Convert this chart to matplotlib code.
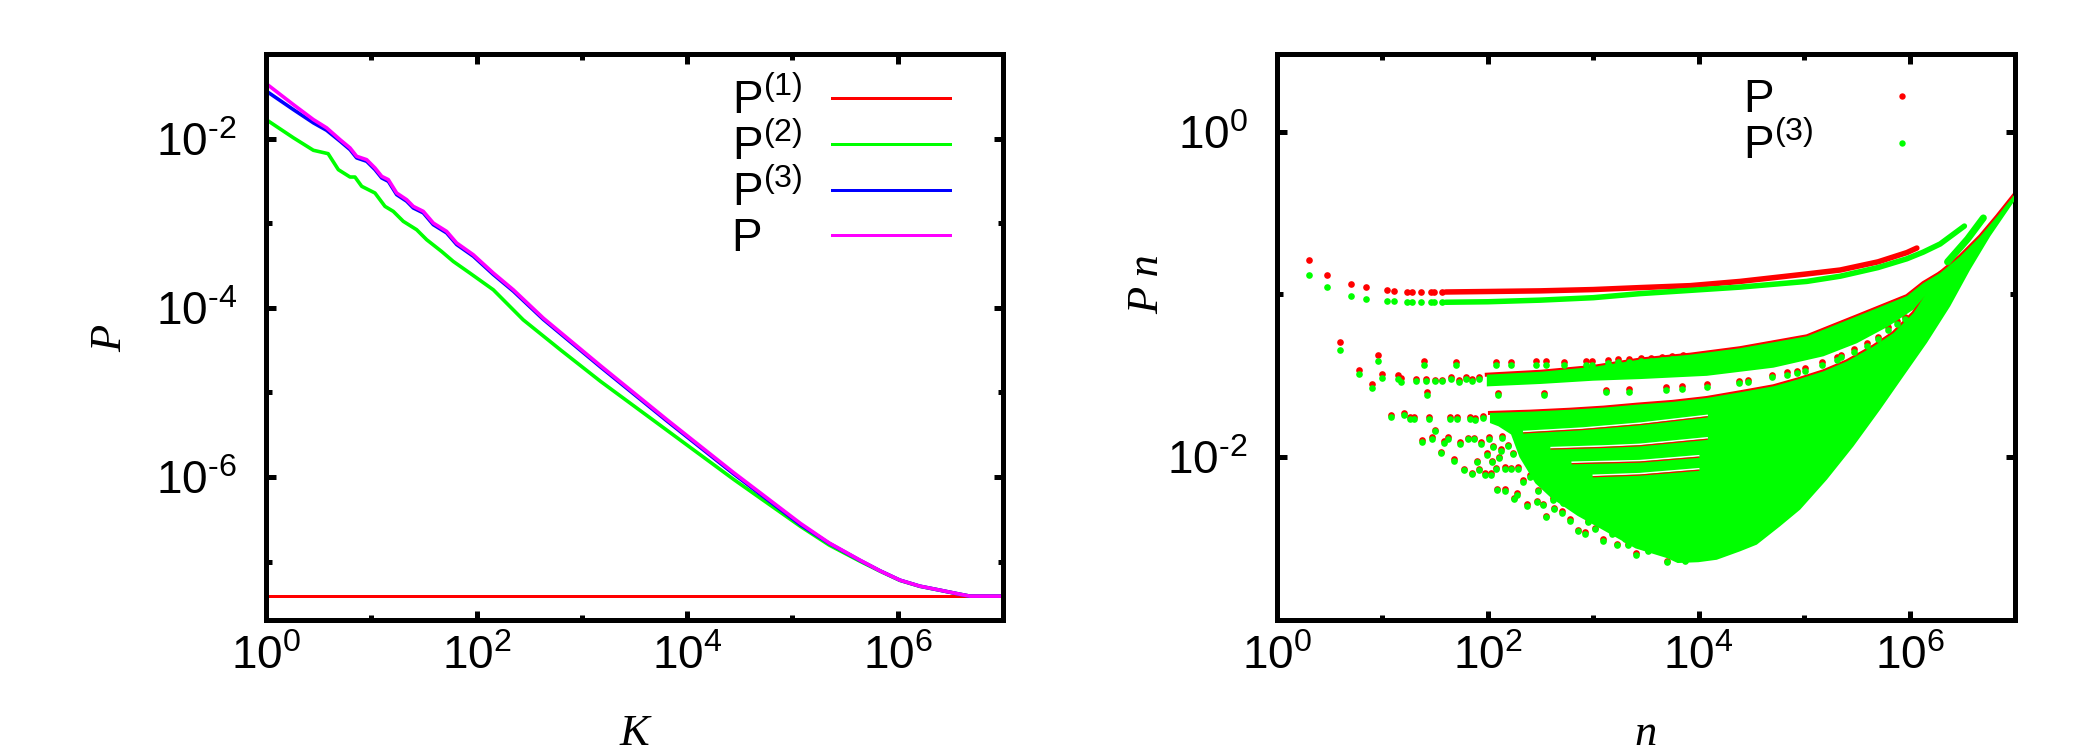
import numpy as np
import matplotlib
matplotlib.use('Agg')
import matplotlib.pyplot as plt
from matplotlib import font_manager as fm
from matplotlib.ticker import LogLocator, FuncFormatter, NullFormatter
from matplotlib.lines import Line2D
from matplotlib.transforms import offset_copy

names = {f.name for f in fm.fontManager.ttflist}
SANS = 'Liberation Sans Narrow' if 'Liberation Sans Narrow' in names else 'Liberation Sans'
SERIF = 'Liberation Serif'
plt.rcParams.update({
    'font.family': SANS,
    'mathtext.fontset': 'custom',
    'mathtext.rm': SANS,
    'mathtext.it': SANS + ':italic',
    'mathtext.bf': SANS + ':bold',
    'axes.unicode_minus': False,
})

RED, GREEN, BLUE, MAGENTA = '#ff0000', '#00ff00', '#0000ff', '#ff00ff'

# ---------------- left panel data (log10 K, log10 P) ----------------
P1_logK = [0.0, 6.98]
P1_logP = [-7.41, -7.41]

P2_logK = [0.012, 0.26, 0.45, 0.59, 0.687, 0.798, 0.845, 0.909, 1.035, 1.13, 1.209, 1.304,
           1.431, 1.526, 1.668, 1.779, 1.937, 2.159, 2.443, 2.8, 3.178, 3.811, 4.444,
           5.078, 5.35, 5.641, 5.831, 6.021, 6.21, 6.40, 6.59, 6.686, 6.98]
P2_logP = [-1.784, -1.99, -2.138, -2.178, -2.367, -2.454, -2.454, -2.564, -2.643, -2.801,
           -2.86, -2.978, -3.077, -3.195, -3.334, -3.452, -3.59, -3.787, -4.142, -4.5,
           -4.87, -5.45, -6.03, -6.585, -6.805, -6.995, -7.112, -7.222, -7.292, -7.338,
           -7.386, -7.408, -7.408]

P3_logK = [0.013, 0.26, 0.45, 0.576, 0.703, 0.798, 0.861, 0.956, 1.035, 1.099, 1.162, 1.241,
           1.336, 1.399, 1.494, 1.589, 1.716, 1.811, 1.969, 2.159, 2.349, 2.634, 3.178,
           3.811, 4.444, 5.078, 5.35, 5.641, 5.831, 6.021, 6.21, 6.40, 6.59, 6.686, 6.98]
P3_logP = [-1.447, -1.657, -1.814, -1.902, -2.03, -2.13, -2.228, -2.268, -2.366, -2.465,
           -2.505, -2.662, -2.74, -2.82, -2.878, -3.017, -3.115, -3.252, -3.39, -3.606,
           -3.803, -4.137, -4.70, -5.34, -5.965, -6.565, -6.785, -6.985, -7.108, -7.219,
           -7.29, -7.337, -7.385, -7.408, -7.408]

P_logK = [0.013, 0.26, 0.45, 0.576, 0.703, 0.798, 0.861, 0.956, 1.035, 1.099, 1.162, 1.241,
          1.336, 1.399, 1.494, 1.589, 1.716, 1.811, 1.969, 2.159, 2.349, 2.634, 3.178,
          3.811, 4.444, 5.078, 5.35, 5.641, 5.831, 6.021, 6.21, 6.40, 6.59, 6.686, 6.98]
P_logP = [-1.361, -1.598, -1.775, -1.873, -2.012, -2.11, -2.209, -2.249, -2.347, -2.446,
          -2.485, -2.643, -2.722, -2.801, -2.86, -2.998, -3.097, -3.234, -3.373, -3.589,
          -3.787, -4.122, -4.685, -5.325, -5.95, -6.55, -6.78, -6.982, -7.108, -7.219,
          -7.29, -7.337, -7.385, -7.408, -7.408]

# ---------------- right panel data (log10 n, log10 Pn) ----------------
Q_n = [2, 3, 5, 7, 11, 13, 17, 19, 23, 29, 31, 37]
Q_red = [-0.786, -0.878, -0.934, -0.956, -0.975, -0.980, -0.985, -0.985, -0.985, -0.985, -0.985, -0.985]
Q_grn = [-0.878, -0.956, -1.007, -1.026, -1.038, -1.040, -1.045, -1.046, -1.047, -1.048, -1.048, -1.048]

A_logn_red = [1.6, 2.0, 2.5, 3.0, 3.444, 3.92, 4.393, 5.026, 5.342, 5.7, 5.974, 6.069]
A_logp_red = [-0.985, -0.982, -0.978, -0.97, -0.958, -0.946, -0.92, -0.874, -0.85, -0.80, -0.743, -0.715]
A_logn_grn = [1.6, 2.0, 2.5, 3.0, 3.444, 3.92, 4.393, 5.026, 5.342, 5.7, 5.974, 6.13, 6.29, 6.52]
A_logp_grn = [-1.048, -1.045, -1.035, -1.02, -0.995, -0.975, -0.955, -0.92, -0.888, -0.835,
              -0.781, -0.74, -0.69, -0.58]
R_logn = [6.36, 6.55, 6.70]
R_logp = [-0.80, -0.66, -0.53]

B_top_logn = [1.99, 2.5, 3.0, 3.444, 3.92, 4.393, 5.026, 5.5, 5.974, 6.13, 6.29]
B_top_logp = [-1.493, -1.475, -1.445, -1.40, -1.37, -1.33, -1.257, -1.134, -1.01, -0.93, -0.868]
B_bot_logn = [6.29, 6.037, 5.8, 5.5, 5.183, 4.709, 4.077, 3.444, 3.0, 2.5, 1.99]
B_bot_logp = [-0.90, -1.093, -1.196, -1.30, -1.38, -1.45, -1.50, -1.52, -1.53, -1.55, -1.565]

M_top_logn = [2.02, 2.4, 2.78, 3.1, 3.413, 3.75, 4.077, 4.4, 4.709, 4.95, 5.183, 5.405,
              5.658, 5.847, 6.037, 6.15, 6.29, 6.48, 6.67, 6.83, 6.99]
M_top_logp = [-1.728, -1.72, -1.708, -1.695, -1.677, -1.66, -1.636, -1.60, -1.564, -1.52,
              -1.472, -1.411, -1.319, -1.237, -1.114, -1.0, -0.868, -0.766, -0.643, -0.52, -0.39]
M_rest_logn = [6.99, 6.765, 6.575, 6.385, 6.164, 5.942, 5.721, 5.468, 5.215, 4.962, 4.772,
               4.551, 4.393, 4.171, 3.997, 3.80, 3.70, 3.40, 3.10, 2.85, 2.60, 2.45, 2.30,
               2.22, 2.10, 2.02]
M_rest_logp = [-0.43, -0.643, -0.848, -1.073, -1.298, -1.503, -1.708, -1.933, -2.138, -2.322,
               -2.424, -2.537, -2.578, -2.63, -2.645, -2.65, -2.62, -2.56, -2.45, -2.36, -2.25,
               -2.16, -2.0, -1.86, -1.81, -1.79]

L1_logn = [2.34, 2.9, 3.444, 4.08]
L1_logp = [-1.851, -1.83, -1.80, -1.752]
L2_logn = [2.6, 3.1, 3.44, 4.08]
L2_logp = [-1.95, -1.94, -1.93, -1.89]
L3_logn = [2.8, 3.44, 4.0]
L3_logp = [-2.04, -2.03, -2.00]
L4_logn = [3.0, 3.44, 4.0]
L4_logp = [-2.12, -2.11, -2.08]

S_logn = [0.602, 0.778, 0.903, 0.954, 1.0, 1.146, 1.176, 1.314, 1.41, 1.398, 1.494, 1.567,
          1.655, 1.725, 1.788, 1.851, 1.92,
          1.695, 2.081, 2.223, 2.46, 2.555, 2.726, 2.929, 2.986, 3.138, 3.232, 3.343, 3.45,
          3.55, 3.65, 3.75, 3.85,
          1.423, 2.1, 2.536, 3.125, 3.343, 3.694, 3.84, 4.077, 4.386, 4.472, 4.699, 4.836,
          4.93, 5.009, 5.174, 5.31, 5.35, 5.477, 5.595, 5.696, 5.8, 5.879, 5.958,
          1.078, 1.2, 1.262, 1.30, 1.445, 1.641, 1.705, 1.831, 1.879, 1.958,
          1.499, 1.379, 1.474, 1.584, 1.625, 1.736, 1.815, 1.872, 1.932, 2.014, 2.131, 2.267]
S_red = [-1.294, -1.466, -1.552, -1.370, -1.491, -1.497, -1.515, -1.52, -1.52, -1.407, -1.525,
         -1.525, -1.51, -1.525, -1.51, -1.52, -1.51,
         -1.417, -1.417, -1.417, -1.412, -1.412, -1.417, -1.412, -1.412, -1.405, -1.398, -1.398,
         -1.392, -1.39, -1.385, -1.38, -1.375,
         -1.602, -1.605, -1.605, -1.585, -1.583, -1.57, -1.565, -1.553, -1.529, -1.523, -1.494,
         -1.478, -1.47, -1.453, -1.416, -1.385, -1.37, -1.338, -1.299, -1.259, -1.201, -1.164,
         -1.136,
         -1.742, -1.728, -1.752, -1.752, -1.752, -1.752, -1.752, -1.752, -1.760, -1.745,
         -1.83, -1.896, -1.878, -1.902, -1.878, -1.906, -1.88, -1.88, -1.906, -1.878, -1.87, -1.861]
S_grn = [-1.339, -1.491, -1.577, -1.407, -1.515, -1.521, -1.536, -1.534, -1.534, -1.435, -1.534,
         -1.534, -1.519, -1.536, -1.519, -1.534, -1.519,
         -1.436, -1.436, -1.436, -1.431, -1.431, -1.436, -1.431, -1.431, -1.424, -1.417, -1.417,
         -1.411, -1.409, -1.404, -1.399, -1.394,
         -1.617, -1.62, -1.62, -1.60, -1.598, -1.585, -1.58, -1.568, -1.544, -1.538, -1.509,
         -1.493, -1.485, -1.468, -1.431, -1.40, -1.385, -1.353, -1.314, -1.274, -1.216, -1.179,
         -1.151,
         -1.753, -1.74, -1.764, -1.764, -1.764, -1.764, -1.764, -1.764, -1.772, -1.757,
         -1.841, -1.906, -1.888, -1.912, -1.888, -1.916, -1.89, -1.89, -1.916, -1.888, -1.88, -1.871]

T_logn = [1.559, 1.682, 1.777, 1.853, 1.90, 1.995, 2.043, 2.109, 1.916, 1.973, 2.03, 2.084,
          2.163, 2.252, 2.275, 2.375, 2.464, 2.527, 2.552, 2.631, 2.716, 2.859, 2.922, 3.096,
          3.222, 3.333, 3.403, 3.523, 3.703, 3.871, 2.08, 2.16, 2.22, 2.29,
          2.33, 2.40, 2.48, 2.62, 2.70, 2.78, 2.95, 3.02, 3.18, 3.30,
          2.05, 2.12, 2.19, 2.24, 2.31, 2.38, 2.44, 2.52, 2.58]
T_grn = [-1.974, -2.021, -2.08, -2.103, -2.029, -1.984, -2.029, -2.005, -2.08, -2.107, -2.107,
         -2.203, -2.205, -2.256, -2.23, -2.297, -2.275, -2.295, -2.369, -2.318, -2.281, -2.455,
         -2.47, -2.512, -2.541, -2.541, -2.598, -2.578, -2.645, -2.64, -2.074, -2.07, -2.074, -2.07,
         -2.15, -2.12, -2.21, -2.26, -2.34, -2.39, -2.40, -2.44, -2.47, -2.50,
         -1.94, -1.96, -1.93, -1.98, -1.95, -2.02, -1.99, -2.06, -2.03]
T_red = [-1.966, -2.013, -2.072, -2.095, -2.021, -1.976, -2.021, -1.997, -2.072, -2.099, -2.099,
         -2.195, -2.197, -2.248, -2.222, -2.289, -2.267, -2.287, -2.361, -2.31, -2.273, -2.447,
         -2.462, -2.504, -2.533, -2.533, -2.59, -2.57, -2.637, -2.632, -2.066, -2.062, -2.066, -2.062,
         -2.142, -2.112, -2.202, -2.252, -2.332, -2.382, -2.392, -2.432, -2.462, -2.492,
         -1.932, -1.952, -1.922, -1.972, -1.942, -2.012, -1.982, -2.052, -2.022]


def E(a):
    return 10.0 ** np.asarray(a, dtype=float)


def sup_fmt(v, _pos):
    e = int(round(np.log10(v)))
    return '10$^{\\text{%d}}$' % e


W, H = 2091, 756
fig = plt.figure(figsize=(W / 100, H / 100), dpi=100)
axL = fig.add_axes([266 / W, 1 - 620 / H, 737 / W, 566 / H])
axR = fig.add_axes([1277 / W, 1 - 620 / H, 738 / W, 566 / H])

PX = 0.72
FS = 33

# ---------------- left ----------------
lw = 3.6 * PX
axL.plot(E(P1_logK), E(P1_logP), color=RED, lw=3 * PX)
axL.plot(E(P2_logK), E(P2_logP), color=GREEN, lw=lw)
axL.plot(E(P3_logK), E(P3_logP), color=BLUE, lw=lw)
axL.plot(E(P_logK), E(P_logP), color=MAGENTA, lw=lw)
axL.set_xlim(1, 1e7)
axL.set_ylim(10 ** -7.69, 1e-1)

# ---------------- right ----------------
dot = 23
axR.scatter(Q_n, E(Q_red), s=dot, color=RED, lw=0, zorder=2)
axR.plot(E(A_logn_red), E(A_logp_red), color=RED, lw=5.5 * PX, solid_capstyle='round', zorder=2)
axR.plot(E(B_top_logn), E(B_top_logp), color=RED, lw=4 * PX, zorder=2)
axR.plot(E(M_top_logn), E(M_top_logp), color=RED, lw=4 * PX, zorder=2)
axR.scatter(E(S_logn), E(S_red), s=dot, color=RED, lw=0, zorder=2)
axR.scatter(E(T_logn), E(T_red), s=dot, color=RED, lw=0, zorder=2)

axR.fill(E(B_top_logn + B_bot_logn), E(B_top_logp + B_bot_logp), color=GREEN, lw=0, zorder=3)
axR.fill(E(M_top_logn + M_rest_logn), E(M_top_logp + M_rest_logp), color=GREEN, lw=0, zorder=3)
white_shift = offset_copy(axR.transData, fig=fig, x=0, y=1.5, units='dots')
for ln, lp in [(L1_logn, L1_logp), (L2_logn, L2_logp), (L3_logn, L3_logp), (L4_logn, L4_logp)]:
    axR.plot(E(ln), E(lp), color='white', lw=1.5 * PX, transform=white_shift, zorder=4)
    axR.plot(E(ln), E(lp), color=RED, lw=1.2 * PX, zorder=4)
axR.plot(E(A_logn_grn), E(A_logp_grn), color=GREEN, lw=5.5 * PX, solid_capstyle='round', zorder=3)
axR.plot(E(R_logn), E(R_logp), color=GREEN, lw=7 * PX, solid_capstyle='round', zorder=3)
axR.scatter(Q_n, E(Q_grn), s=dot, color=GREEN, lw=0, zorder=5)
axR.scatter(E(S_logn), E(S_grn), s=dot, color=GREEN, lw=0, zorder=5)
axR.scatter(E(T_logn), E(T_grn), s=dot, color=GREEN, lw=0, zorder=5)
axR.set_xlim(1, 1e7)
axR.set_ylim(1e-3, 10 ** 0.477)

# ---------------- common styling ----------------
for ax in (axL, axR):
    ax.set_xscale('log')
    ax.set_yscale('log')
    for a in (ax.xaxis, ax.yaxis):
        a.set_major_locator(LogLocator(base=100, numticks=20))
        a.set_minor_locator(LogLocator(base=100, subs=(10,), numticks=20))
        a.set_major_formatter(FuncFormatter(sup_fmt))
        a.set_minor_formatter(NullFormatter())
    ax.tick_params(which='both', direction='in', top=True, right=True, width=5 * PX,
                   labelsize=FS, colors='black')
    ax.tick_params(which='major', length=9.5 * PX)
    ax.tick_params(which='minor', length=5.5 * PX, labelleft=False, labelbottom=False)
    ax.tick_params(axis='x', which='major', pad=11)
    ax.tick_params(axis='y', which='major', pad=21)
    for s in ax.spines.values():
        s.set_linewidth(5 * PX)

lab = dict(family=SERIF, style='italic', fontsize=32)
axL.set_xlabel('K', va='baseline', **lab)
axL.xaxis.set_label_coords(0.5, -0.2208)
axR.set_xlabel('n', va='baseline', **lab)
axR.xaxis.set_label_coords(0.5, -0.2208)
axL.set_ylabel('P', va='center', ha='center', **lab)
axL.yaxis.set_label_coords(-0.2117, 0.498)
axR.set_ylabel('P n', va='center', ha='center', **lab)
axR.yaxis.set_label_coords(-0.176, 0.594)

# legends: text on the left (left-aligned), keys aligned in a column on the right
hL = [Line2D([], [], color=c, lw=3 * PX) for c in (RED, GREEN, BLUE, MAGENTA)]
legL = axL.legend(hL, ['P$^{(1)}$', 'P$^{(2)}$', 'P$^{(3)}$', 'P'], loc='upper right',
                  bbox_to_anchor=(0.928, 0.957), frameon=False, markerfirst=False,
                  fontsize=FS, handlelength=2.58, handletextpad=0.65, labelspacing=0.02,
                  borderpad=0, borderaxespad=0)
hR = [Line2D([], [], ls='none', marker='o', color=c, markersize=4.6, markeredgewidth=0)
      for c in (RED, GREEN)]
legR = axR.legend(hR, ['P', 'P$^{(3)}$'], loc='upper right', bbox_to_anchor=(0.878, 0.957),
                  frameon=False, markerfirst=False, fontsize=FS, handlelength=1.0,
                  handletextpad=1.43, labelspacing=0.02, borderpad=0, borderaxespad=0)

renderer = fig.canvas.get_renderer()
for leg in (legL, legR):
    for col in leg._legend_handle_box.get_children():
        col.align = 'left'
        rows = col.get_children()
        widths = [r.get_children()[0].get_bbox(renderer).width for r in rows]
        wmax = max(widths)
        for r, w in zip(rows, widths):
            r.sep = r.sep + (wmax - w) * 72.0 / fig.dpi

fig.savefig('out.png', dpi=100)
